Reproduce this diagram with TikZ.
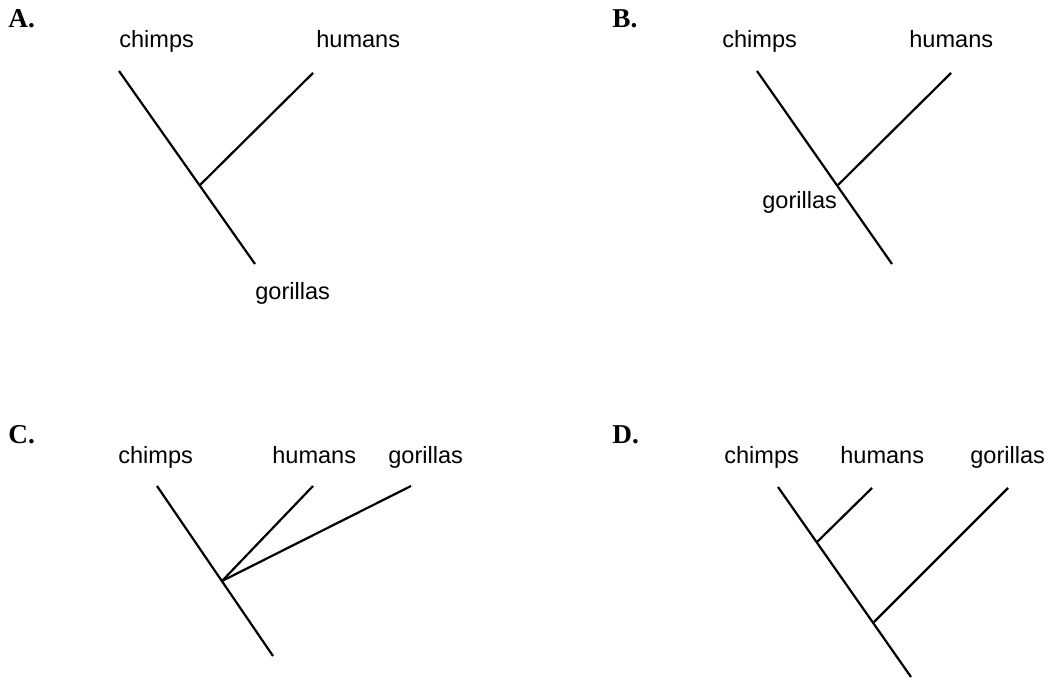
\documentclass[tikz,border=0pt]{standalone}
\usepackage{fontspec}
\setmainfont{Liberation Sans}
\newfontfamily\panelfont{Liberation Serif}
\begin{document}
\begin{tikzpicture}[x=0.02cm,y=-0.02cm,
    branch/.style={line width=1.25pt},
    taxon/.style={anchor=base west,inner sep=0pt,font=\fontsize{13.4}{16}\selectfont},
    panel/.style={anchor=base west,inner sep=0pt,font=\panelfont\bfseries\fontsize{15.5}{18}\selectfont}]
    \useasboundingbox (0,0) rectangle (1050,679);
    % A
    \node[panel] (labA) at (8,28) {A.};
    \node[taxon] (chimpsA) at (119,48) {chimps};
    \node[taxon] (humansA) at (316,48) {humans};
    \node[taxon] (gorillasA) at (255,299) {gorillas};
    \coordinate (cA) at (119,71);
    \coordinate (hA) at (313,73);
    \coordinate (gA) at (255,264);
    \coordinate (jA) at (200,185);
    \draw[branch] (cA)--(gA);
    \draw[branch] (hA)--(jA);
    % B
    \node[panel] (labB) at (612,28) {B.};
    \node[taxon] (chimpsB) at (722,48) {chimps};
    \node[taxon] (humansB) at (909,48) {humans};
    \node[taxon] (gorillasB) at (762,208) {gorillas};
    \coordinate (cB) at (757,71);
    \coordinate (hB) at (951,73);
    \coordinate (gB) at (892,264);
    \coordinate (jB) at (838,185);
    \draw[branch] (cB)--(gB);
    \draw[branch] (hB)--(jB);
    % C
    \node[panel] (labC) at (8,443) {C.};
    \node[taxon] (chimpsC) at (118,463) {chimps};
    \node[taxon] (humansC) at (272,463) {humans};
    \node[taxon] (gorillasC) at (388,463) {gorillas};
    \coordinate (cC) at (157,486);
    \coordinate (hC) at (313,486);
    \coordinate (gC) at (411,486);
    \coordinate (rC) at (273,656);
    \coordinate (jC) at (222,581);
    \draw[branch] (cC)--(rC);
    \draw[branch] (hC)--(jC);
    \draw[branch] (gC)--(jC);
    % D
    \node[panel] (labD) at (612,443) {D.};
    \node[taxon] (chimpsD) at (724,463) {chimps};
    \node[taxon] (humansD) at (840,463) {humans};
    \node[taxon] (gorillasD) at (970,463) {gorillas};
    \coordinate (cD) at (778,487);
    \coordinate (hD) at (872,488);
    \coordinate (gD) at (1008,488);
    \coordinate (rD) at (911,677);
    \coordinate (jhD) at (817,542);
    \coordinate (jgD) at (873,623);
    \draw[branch] (cD)--(rD);
    \draw[branch] (hD)--(jhD);
    \draw[branch] (gD)--(jgD);
\end{tikzpicture}
\end{document}
